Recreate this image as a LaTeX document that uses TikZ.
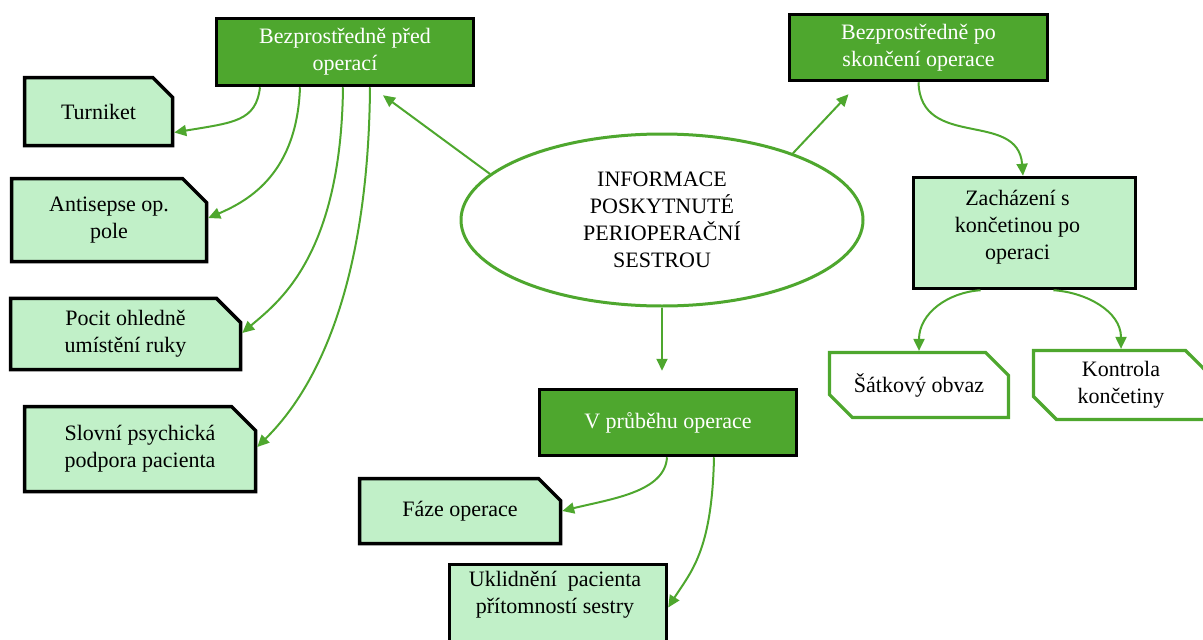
\documentclass[tikz,border=0pt]{standalone}
\usepackage{fontspec}
\setmainfont{Liberation Serif}
\usetikzlibrary{shapes.misc,shapes.geometric,arrows.meta}

\definecolor{darkgreen}{RGB}{78,167,46}
\definecolor{lightgreen}{RGB}{193,240,200}
\definecolor{linkgreen}{RGB}{78,167,46}

\tikzset{
  labelfont/.style={font=\fontsize{22}{27}\selectfont},
  headbox/.style={rectangle, draw=black, line width=3.5pt, fill=darkgreen,
    text=white, align=center, inner sep=0pt, labelfont},
  itembox/.style={chamfered rectangle, chamfered rectangle corners=north east,
    chamfered rectangle xsep=12pt, chamfered rectangle ysep=12pt,
    draw=black, line width=3.5pt, fill=lightgreen, align=center,
    inner sep=0pt, labelfont},
  leafbox/.style={chamfered rectangle,
    chamfered rectangle corners={north east,south west},
    chamfered rectangle xsep=12pt, chamfered rectangle ysep=11pt,
    draw=linkgreen, line width=3.2pt, fill=white, align=center,
    inner sep=0pt, labelfont},
  hub/.style={ellipse, draw=linkgreen, line width=3pt, fill=white,
    inner sep=0pt, align=center, labelfont},
  txt/.style={align=center, inner sep=0pt, labelfont},
  link/.style={draw=linkgreen, line width=2pt,
    -{Triangle[length=12pt,width=11pt]}},
}

\begin{document}
\begin{tikzpicture}[x=1pt,y=-1pt]
\useasboundingbox (0,0) rectangle (1203,640);
\clip (0,0) rectangle (1203,640);

% central topic
\node[hub, minimum width=402, minimum height=172] (ell) at (662,220)
  {INFORMACE\\POSKYTNUTÉ\\PERIOPERAČNÍ\\SESTROU};

% phase headings
\node[headbox, minimum width=257, minimum height=67] (bpred) at (345,52)
  {Bezprostředně před\\operací};
\node[headbox, minimum width=258, minimum height=66] (bpo) at (918.5,47.5)
  {Bezprostředně po\\skončení operace};
\node[headbox, minimum width=257, minimum height=66] (vpr) at (668,422.5)
  {V průběhu operace};

% before the operation
\node[itembox, minimum width=148, minimum height=68] (turn) at (98.5,111.5) {Turniket};
\node[itembox, minimum width=195, minimum height=83] (anti) at (109,220) {Antisepse op.\\pole};
\node[itembox, minimum width=230, minimum height=67] (pocit) at (125.5,334) {Pocit ohledně\\umístění ruky};
\node[itembox, minimum width=231, minimum height=85] (slov) at (140,449) {Slovní psychická\\podpora pacienta};

% during the operation
\node[itembox, minimum width=201, minimum height=65] (faze) at (460,511) {Fáze operace};
\node[itembox, chamfered rectangle xsep=14pt, chamfered rectangle ysep=14pt,
  minimum width=217, minimum height=90] (ukl) at (558,609.5) {};
\node[txt, anchor=north] (ukl-t) at ([xshift=-3pt,yshift=-8pt]ukl.north)
  {Uklidnění~ pacienta\\přítomností sestry};

% after the operation
\node[itembox, chamfered rectangle xsep=20pt, chamfered rectangle ysep=20pt,
  minimum width=222, minimum height=111] (zach) at (1024.5,233) {};
\node[txt] (zach-t) at ([xshift=-7pt,yshift=6pt]zach.center)
  {Zacházení s\\končetinou po\\operaci};
\node[leafbox, minimum width=179, minimum height=65] (satk) at (919,385) {Šátkový obvaz};
\node[leafbox, minimum width=175, minimum height=65] (kontr) at (1121,385) {Kontrola\\končetiny};

% connectors from the central topic
\draw[link] (ell.165) -- ([xshift=38pt,yshift=-8pt]bpred.south);
\draw[link] (ell.27) -- ([xshift=-70pt,yshift=-12pt]bpo.south);
\draw[link] (ell.south) -- ([xshift=-6pt,yshift=17pt]vpr.north);

% before the operation
\draw[link] ([xshift=-85pt]bpred.south) .. controls +(-4,34) and +(60,-10) .. ([yshift=-21pt]turn.east);
\draw[link] ([xshift=-45pt]bpred.south) .. controls +(-3,85) and +(42,-18) .. ([yshift=2pt]anti.east);
\draw[link] ([xshift=-2pt]bpred.south) .. controls +(-2,170) and +(35,-30) .. ([yshift=1pt]pocit.east);
\draw[link] ([xshift=25pt]bpred.south) .. controls +(-2,240) and +(35,-35) .. ([yshift=2pt]slov.east);

% after the operation
\draw[link] (bpo.south) .. controls +(2,68) and +(-5,-66) .. ([xshift=-1.5pt]zach.north);
\draw[link] ([xshift=-44pt]zach.south) .. controls +(-32,2) and +(0,-38) .. (satk.north);
\draw[link] ([xshift=29pt]zach.south) .. controls +(32,2) and +(0,-38) .. (kontr.north);

% during the operation
\draw[link] ([xshift=-1pt]vpr.south) .. controls +(-2,35) and +(48,-12) .. (faze.east);
\draw[link] ([xshift=46pt]vpr.south) .. controls +(-2,95) and +(22,-35) .. ([yshift=2pt]ukl.east);
\end{tikzpicture}
\end{document}
